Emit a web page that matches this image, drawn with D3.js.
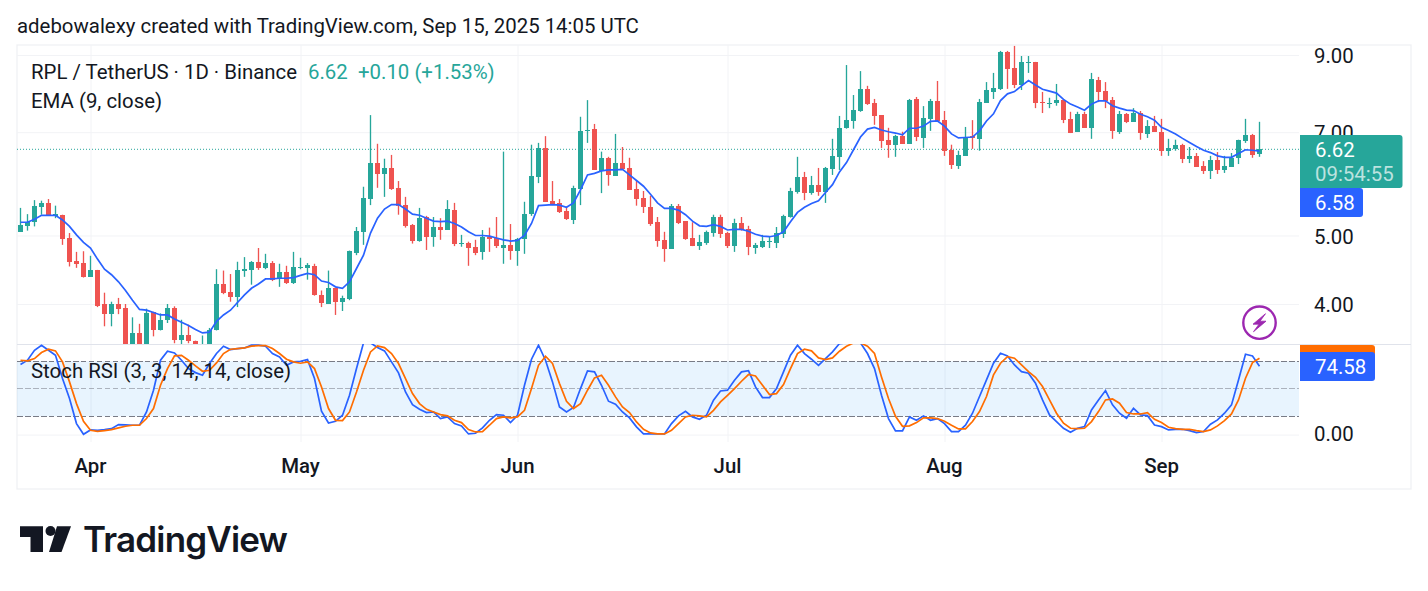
<!DOCTYPE html>
<html>
<head>
<meta charset="utf-8">
<script src="https://cdn.jsdelivr.net/npm/d3@7"></script>
<style>
  body { margin: 0; background: #fff; }
  svg { display: block; font-family: Roboto, sans-serif; }
  .axis path { display: none; }
  .axis text { fill: #131722; font-size: 20.4px; font-family: Roboto, sans-serif; }
  .grid path { display: none; }
  .grid line { stroke: #f2f3f6; stroke-width: 1; }
</style>
</head>
<body>
<div id="chart"></div>
<script>
// daily candles, Mar 22 to Sep 15 2025
const open = [5.06,5.15,5.22,5.49,5.55,5.33,5.35,4.96,4.60,4.57,4.37,4.47,4.00,3.87,4.00,3.95,3.40,3.64,3.45,3.90,3.68,3.80,3.95,3.56,3.62,3.55,3.44,3.49,3.67,4.27,4.16,4.09,4.46,4.47,4.59,4.50,4.57,4.35,4.44,4.28,4.50,4.50,4.53,4.12,4.00,4.21,4.03,4.07,
  4.72,5.06,5.63,6.33,6.11,6.23,5.84,5.52,5.18,4.91,5.31,4.98,5.14,5.09,5.43,4.87,4.88,4.82,4.74,4.98,4.96,4.80,4.85,4.76,4.95,5.36,6.05,6.65,5.60,5.56,5.42,5.26,5.82,7.03,7.08,6.17,6.44,6.07,6.33,6.23,5.82,5.65,5.49,5.23,4.93,4.79,5.51,
  5.24,4.96,4.83,4.88,5.04,5.31,5.04,4.83,5.21,5.11,4.80,4.82,4.90,4.88,5.03,5.31,5.76,6.05,5.74,5.90,5.76,6.21,6.46,7.10,7.26,7.50,8.06,7.70,7.40,6.83,6.72,6.92,6.74,7.80,6.87,7.31,7.75,7.28,6.61,6.27,6.48,6.92,6.85,
  7.70,7.98,8.06,9.09,8.63,8.16,8.77,8.80,7.72,7.67,7.70,7.77,7.31,7.01,7.43,7.10,8.30,8.01,7.77,7.01,7.43,7.24,7.45,6.96,7.14,7.01,6.59,6.63,6.72,6.42,6.48,6.27,6.17,6.40,6.19,6.25,6.44,6.80,6.94,6.52]
const high = [5.47,5.36,5.61,5.60,5.63,5.51,5.35,5.04,4.74,4.75,4.68,4.47,4.15,4.03,4.08,4.00,3.83,3.75,3.94,3.90,3.88,4.00,3.97,3.80,3.74,3.55,3.61,3.70,4.48,4.46,4.41,4.59,4.66,4.60,4.80,4.71,4.60,4.56,4.53,4.74,4.65,4.57,4.56,4.18,4.46,4.22,4.11,4.76,
  5.14,5.86,7.40,6.74,6.42,6.50,5.97,5.67,5.19,5.47,5.33,5.31,5.29,5.61,5.56,5.01,4.90,4.93,5.09,5.13,5.31,6.57,5.19,4.96,5.58,6.72,6.76,6.91,5.97,5.63,5.49,5.88,7.36,7.77,7.19,6.57,6.46,6.96,6.67,6.44,5.97,5.78,5.69,5.31,5.06,5.54,5.54,
  5.24,5.22,5.01,5.08,5.35,5.35,5.06,5.28,5.31,5.16,4.88,5.01,4.98,5.14,5.35,5.84,6.46,6.15,6.07,6.23,6.25,6.85,7.38,8.71,7.90,8.54,8.14,7.80,7.40,7.10,6.94,7.01,7.80,7.85,7.62,7.80,8.27,7.50,6.72,6.59,7.12,7.28,7.80,
  8.24,8.49,9.12,9.12,9.27,8.97,8.97,8.80,7.98,7.83,8.19,7.80,7.48,7.48,7.48,8.49,8.38,8.24,7.85,7.50,7.45,7.57,7.50,7.28,7.38,7.31,6.85,6.83,6.74,6.67,6.54,6.37,6.48,6.56,6.48,6.54,6.83,7.31,6.96,7.24]
const low = [5.06,5.08,5.15,5.35,5.33,5.29,4.85,4.52,4.50,4.36,4.37,3.96,3.72,3.72,3.87,3.35,3.35,3.40,3.42,3.60,3.67,3.76,3.52,3.51,3.52,3.47,3.42,3.46,3.67,4.13,4.03,3.96,4.37,4.26,4.47,4.48,4.31,4.23,4.27,4.27,4.48,4.33,4.11,3.96,4.00,3.86,3.91,4.05,
  4.69,4.85,5.52,5.84,5.67,5.80,5.35,5.13,4.87,4.90,4.77,4.82,4.93,5.09,4.83,4.82,4.53,4.69,4.62,4.74,4.80,4.56,4.62,4.53,4.71,5.33,5.93,5.58,5.52,5.38,5.26,5.19,5.52,6.76,6.19,5.74,5.88,6.07,6.19,5.80,5.51,5.38,5.16,4.82,4.59,4.79,5.19,
  4.93,4.83,4.77,4.85,4.98,4.96,4.80,4.74,5.08,4.69,4.71,4.80,4.80,4.80,4.96,5.30,5.73,5.61,5.71,5.69,5.56,6.09,6.19,7.08,7.08,7.48,7.65,7.17,6.65,6.44,6.46,6.74,6.74,6.80,6.65,7.03,7.24,6.48,6.21,6.21,6.48,6.63,6.59,
  7.70,7.80,8.03,8.06,8.08,8.03,8.49,7.57,7.45,7.57,7.63,7.21,6.98,7.01,7.10,6.85,7.72,7.57,6.85,6.96,7.21,7.24,6.83,6.87,7.01,6.48,6.48,6.59,6.33,6.33,6.25,6.11,6.01,6.11,6.13,6.25,6.31,6.76,6.44,6.46]
const close = [5.18,5.23,5.51,5.55,5.33,5.36,4.94,4.59,4.56,4.37,4.47,3.98,3.87,4.00,3.94,3.40,3.64,3.45,3.89,3.68,3.80,3.95,3.56,3.61,3.55,3.51,3.49,3.68,4.27,4.15,4.09,4.47,4.48,4.59,4.50,4.57,4.33,4.44,4.28,4.51,4.51,4.54,4.12,4.01,4.22,4.03,4.08,4.76,
  5.08,5.65,6.33,6.11,6.23,5.82,5.51,5.16,4.91,5.29,4.98,5.14,5.09,5.45,4.87,4.88,4.80,4.72,4.98,4.95,4.83,4.85,4.76,4.95,5.36,6.07,6.65,5.58,5.54,5.40,5.28,5.84,7.03,7.05,6.19,6.44,6.09,6.33,6.21,5.80,5.63,5.49,5.19,4.91,4.79,5.51,5.21,
  4.94,4.83,4.90,5.06,5.31,5.03,4.83,5.21,5.09,4.82,4.85,4.91,4.91,5.04,5.33,5.78,6.05,5.74,5.90,5.76,6.23,6.48,7.10,7.28,7.53,8.06,7.67,7.38,6.80,6.72,6.92,6.74,7.77,6.89,7.33,7.75,7.26,6.59,6.29,6.50,6.89,6.87,7.73,
  8.03,8.08,9.09,8.60,8.16,8.80,8.80,7.70,7.70,7.70,7.77,7.28,6.98,7.43,7.10,8.33,7.98,7.75,7.03,7.43,7.24,7.45,6.98,7.14,7.01,6.59,6.65,6.72,6.42,6.48,6.25,6.17,6.40,6.19,6.27,6.44,6.83,6.94,6.50,6.62]

// EMA (9, close)
const ema = [5.22,5.22,5.27,5.34,5.34,5.34,5.26,5.15,5.01,4.89,4.80,4.63,4.48,4.40,4.30,4.18,4.05,3.93,3.92,3.89,3.86,3.86,3.81,3.77,3.73,3.68,3.64,3.65,3.78,3.86,3.92,4.02,4.12,4.21,4.27,4.34,4.34,4.35,4.35,4.36,4.39,4.42,4.40,4.31,4.29,4.23,4.21,4.30,
  4.49,4.69,5.04,5.29,5.45,5.53,5.53,5.45,5.36,5.34,5.29,5.24,5.23,5.24,5.20,5.14,5.06,5.00,5.00,4.99,4.96,4.93,4.91,4.92,5.00,5.20,5.51,5.52,5.53,5.52,5.48,5.56,5.80,6.09,6.12,6.17,6.19,6.19,6.20,6.09,5.98,5.87,5.72,5.56,5.46,5.46,5.43,
  5.35,5.24,5.16,5.15,5.18,5.15,5.09,5.10,5.10,5.07,5.02,4.99,4.98,5.00,5.06,5.23,5.39,5.48,5.55,5.60,5.75,5.90,6.15,6.34,6.61,6.89,7.07,7.11,7.05,7.01,6.98,6.94,7.09,7.09,7.14,7.25,7.26,7.14,6.96,6.87,6.88,6.89,7.03,
  7.26,7.43,7.76,7.93,7.99,8.14,8.28,8.16,8.05,8.00,7.95,7.79,7.67,7.60,7.52,7.67,7.75,7.75,7.63,7.57,7.52,7.51,7.42,7.36,7.28,7.11,7.04,6.96,6.86,6.77,6.68,6.60,6.55,6.48,6.45,6.45,6.53,6.61,6.60,6.58]

// Stoch RSI (3, 3, 14, 14, close)
const stochK = [76.4,81.1,92,97.5,92,86.5,61.1,39.3,12,0.4,5.1,4.7,5.5,6.5,10.9,10.5,10.2,10.2,24.7,48.4,81.1,90.9,89.1,81.1,72,67.6,64.7,77.5,88.4,96.4,92.7,93.8,94.5,97.5,97.5,96.4,88.4,84.7,75.6,79.3,80,81.8,61.1,25.5,12.7,14.5,
  21.1,42.9,72,100,100,94.9,91.3,79.3,67.3,46.5,32.7,27.6,24,24.7,17.5,19.3,12,9.5,0.7,1.5,7.3,15.6,21.8,21.1,13.1,21.1,53.8,82.2,97.5,81.1,57.5,30.2,24.7,29.5,50.2,69.5,68.4,53.8,36.4,33.1,24.7,18.2,8.4,0.7,0.7,0.7,
  0.7,12,20.4,25.5,19.3,16.7,21.1,37.5,47.6,48.4,59.3,68.4,69.8,52,40.4,40.4,50.2,68.4,86.5,97.5,88.4,82.2,75.6,82.9,90.2,99.3,100,100,100,88.4,72,42.9,17.5,4,4,19.3,15.6,20.4,15.6,17.5,12,3.3,3.3,10.2,
  23.3,41.5,59.6,77.8,88.7,85.8,76,68.7,66.9,56,37.8,21.5,14.2,6.9,2.5,6.9,8.7,26.9,37.8,48,32.4,23.3,17.8,28.7,21.5,20.7,10.5,8.7,5.1,5.8,5.8,4.4,2.2,3.3,11.3,16,23.3,32.4,59.6,87.6,85.8,74.58]
const stochD = [81.1,80.4,82.9,89.5,93.1,91.3,79.3,57.5,33.8,14.5,4.7,3.6,4.4,5.5,7.3,9.1,10.2,10.2,17.5,28.4,53.8,72,85.8,86.5,81.1,74.9,69.1,70.2,78.2,88.4,93.1,93.8,94.5,96.4,97.1,97.1,93.8,88.4,82.2,79.3,77.8,79.3,72,52,28.4,15.6,
  15.3,24.7,46.5,70.2,90.2,96.7,94.9,88.4,77.5,61.1,44.7,33.8,27.6,24.7,21.8,20.4,15.6,13.1,5.5,2.9,3.3,10.2,17.5,19.3,18.2,19.3,26.5,50.2,75.6,85.5,77.5,55.6,36.4,28.4,33.8,48.4,61.8,64.7,53.8,41.1,30.2,24,13.8,5.8,1.8,0.7,0.7,
  4.7,12,19.3,21.1,20.4,19.3,26.5,35.6,42.9,50.2,58.2,65.5,64,53.8,43.6,44.7,54.5,72,88.4,93.1,91.3,83.6,81.8,83.6,90.9,96.4,100,100,96.4,88.4,62.9,39.3,20,9.1,9.5,13.1,18.2,18.2,17.5,14.5,10.2,6.2,6.2,
  14.2,25.1,41.5,65.1,77.8,85.1,83.3,76,68.7,62.5,52.4,37.8,23.3,12.4,6.9,6.5,6.9,14.2,25.1,37.8,38.9,34.2,24,22.5,22.5,24,16.7,13.1,8,6.5,5.8,5.8,4.4,3.3,5.1,9.5,15.3,22.5,37.8,61.5,78.5,83.3]

const priceTicks = [4, 5, 7, 9]
const stochTicks = [0]
const stochLevels = [20, 50, 80]
const monthStarts = [["2025-04-01", "Apr"], ["2025-05-01", "May"], ["2025-06-01", "Jun"], ["2025-07-01", "Jul"], ["2025-08-01", "Aug"], ["2025-09-01", "Sep"]]

const GREEN = "#26a69a", RED = "#ef5350", BLUE = "#2962ff", ORANGE = "#ff6d00", TEXT = "#131722"
const dates = d3.utcDay.range(new Date(Date.UTC(2025, 2, 22)), new Date(Date.UTC(2025, 8, 16)))
const candles = dates.map((d, i) => ({ date: d, o: open[i], h: high[i], l: low[i], c: close[i] }))
const lastDate = dates[dates.length - 1]

const svg = d3.select("#chart").append("svg").attr("width", 1428).attr("height", 591)
svg.append("rect").attr("width", 1428).attr("height", 591).attr("fill", "#fff")

// pane geometry
const paneLeft = 17, paneRight = 1299, outerRight = 1411, paneTop = 45, split = 344, stochBottom = 442, outerBottom = 489

const x = d3.scaleUtc().domain([dates[0], lastDate]).range([20.5, 1259.5])
const y = d3.scaleLog().domain([4, 9]).range([304, 55])
const ys = d3.scaleLinear().domain([0, 100]).range([434.6, 342.9])

const defs = svg.append("defs")
defs.append("clipPath").attr("id", "mainClip").append("rect")
  .attr("x", paneLeft).attr("y", paneTop).attr("width", paneRight - paneLeft).attr("height", split - paneTop)
defs.append("clipPath").attr("id", "stochClip").append("rect")
  .attr("x", paneLeft).attr("y", split).attr("width", paneRight - paneLeft).attr("height", stochBottom - split)

// outer frame
svg.append("rect").attr("x", paneLeft).attr("y", paneTop).attr("width", outerRight - paneLeft).attr("height", outerBottom - paneTop)
  .attr("fill", "none").attr("stroke", "#f0f1f4").attr("stroke-width", 1.3)

// grid lines
const monthDates = monthStarts.map(m => new Date(m[0] + "T00:00:00Z"))
svg.append("g").attr("class", "grid").attr("transform", `translate(0,${stochBottom})`)
  .call(d3.axisBottom(x).tickValues(monthDates).tickSize(-(stochBottom - paneTop)).tickFormat(""))
svg.append("g").attr("class", "grid").attr("transform", `translate(${paneLeft},0)`)
  .call(d3.axisRight(y).tickValues(priceTicks).tickSize(paneRight - paneLeft).tickFormat(""))
svg.append("g").attr("class", "grid").attr("transform", `translate(${paneLeft},0)`)
  .call(d3.axisRight(ys).tickValues(stochTicks).tickSize(paneRight - paneLeft).tickFormat(""))

// stoch band and levels
svg.append("rect").attr("x", paneLeft).attr("width", paneRight - paneLeft)
  .attr("y", ys(80)).attr("height", ys(20) - ys(80)).attr("fill", "rgba(33,150,243,0.1)")
svg.append("g").selectAll("line").data(stochLevels).join("line")
  .attr("x1", paneLeft).attr("x2", paneRight)
  .attr("y1", d => ys(d)).attr("y2", d => ys(d))
  .attr("stroke", "#787b86").attr("stroke-opacity", d => d == 50 ? 0.55 : 1)
  .attr("stroke-dasharray", "5.5,2.5").attr("stroke-width", 1).attr("shape-rendering", "crispEdges")

// pane divider
svg.append("line").attr("x1", paneLeft).attr("x2", outerRight).attr("y1", split + 0.5).attr("y2", split + 0.5)
  .attr("stroke", "#e0e3eb").attr("stroke-width", 1)

// last price line
svg.append("line").attr("x1", paneLeft).attr("x2", paneRight).attr("y1", y(close[close.length - 1])).attr("y2", y(close[close.length - 1]))
  .attr("stroke", GREEN).attr("stroke-width", 1).attr("stroke-dasharray", "1,2")

// candles
const main = svg.append("g").attr("clip-path", "url(#mainClip)")
const color = d => d.c >= d.o ? GREEN : RED
main.append("g").selectAll("rect").data(candles).join("rect")
  .attr("x", d => x(d.date) - 0.67).attr("width", 1.33)
  .attr("y", d => y(d.h)).attr("height", d => y(d.l) - y(d.h))
  .attr("fill", color)
main.append("g").selectAll("rect").data(candles).join("rect")
  .attr("x", d => x(d.date) - 2.5).attr("width", 5)
  .attr("y", d => y(Math.max(d.o, d.c))).attr("height", d => Math.max(1, Math.abs(y(d.o) - y(d.c))))
  .attr("fill", color).attr("shape-rendering", "crispEdges")

// EMA
main.append("path").datum(ema)
  .attr("fill", "none").attr("stroke", BLUE).attr("stroke-width", 1.7)
  .attr("d", d3.line().x((d, i) => x(dates[i])).y(d => y(d)))

// stoch lines
const stochLine = d3.line().x((d, i) => x(dates[i])).y(d => ys(d))
const stoch = svg.append("g").attr("clip-path", "url(#stochClip)")
stoch.append("path").datum(stochK).attr("fill", "none").attr("stroke", BLUE).attr("stroke-width", 1.7).attr("d", stochLine)
stoch.append("path").datum(stochD).attr("fill", "none").attr("stroke", ORANGE).attr("stroke-width", 1.7).attr("d", stochLine)

// axes
svg.append("g").attr("class", "axis").attr("transform", `translate(${paneRight},1)`)
  .call(d3.axisRight(y).tickValues(priceTicks).tickSize(0).tickPadding(15).tickFormat(d3.format(".2f")))
svg.append("g").attr("class", "axis").attr("transform", `translate(${paneRight},-1)`)
  .call(d3.axisRight(ys).tickValues(stochTicks).tickSize(0).tickPadding(15).tickFormat(d3.format(".2f")))
const timeAxis = svg.append("g").attr("class", "axis").attr("transform", "translate(-0.5,452)")
  .call(d3.axisBottom(x).tickValues(monthDates).tickSize(0).tickPadding(7).tickFormat((d, i) => monthStarts[i][1]))
timeAxis.selectAll("text").style("font-weight", 500).style("font-size", "20.4px")

// value tags on the right
function tag(x0, x1, y0, y1, fill) {
  const r = 3
  svg.append("path").attr("fill", fill)
    .attr("d", `M${x0},${y0}H${x1 - r}Q${x1},${y0} ${x1},${y0 + r}V${y1 - r}Q${x1},${y1} ${x1 - r},${y1}H${x0}Z`)
}
function label(tx, ty, str, fill) {
  return svg.append("text").attr("x", tx).attr("y", ty).attr("fill", fill)
    .style("font-size", "20.4px").attr("dominant-baseline", "central").text(str)
}
tag(1300, 1402.5, 135, 188, GREEN)
label(1315, 150, d3.format(".2f")(close[close.length - 1]), "#fff")
label(1315, 174, "09:54:55", "rgba(255,255,255,0.7)")
tag(1300, 1363, 188, 217, BLUE)
label(1315, 203, d3.format(".2f")(ema[ema.length - 1]), "#fff")
tag(1300, 1375, 345, 356, ORANGE)
tag(1300, 1375, 352, 381, BLUE)
label(1315, 367, d3.format(".2f")(stochK[stochK.length - 1]), "#fff")

// lightning marker above the last candle
const mark = svg.append("g").attr("transform", `translate(${x(lastDate)},322.7)`)
mark.append("circle").attr("r", 16.2).attr("fill", "#fff").attr("stroke", "#9c27b0").attr("stroke-width", 2.4)
mark.append("path").attr("fill", "#9c27b0").attr("stroke", "#9c27b0").attr("stroke-width", 0.8).attr("stroke-linejoin", "round")
  .attr("d", "M6,-9 L-6.5,1.5 H-0.5 L-6,9 L6.5,-1.5 H0.5 Z")

// header and legends
label(17, 26, "adebowalexy created with TradingView.com, Sep 15, 2025 14:05 UTC", TEXT)
label(31, 72, "RPL / TetherUS · 1D · Binance", TEXT)
label(308, 72, "6.62", GREEN)
label(358, 72, "+0.10 (+1.53%)", GREEN)
label(31, 101, "EMA (9, close)", TEXT)
label(31, 371, "Stoch RSI (3, 3, 14, 14, close)", TEXT)

// TradingView logo
svg.append("path").attr("fill", "#131722").attr("d", "M20,526.3H43V552H30.5V537H20Z")
svg.append("circle").attr("cx", 50.5).attr("cy", 531).attr("r", 5).attr("fill", "#131722")
svg.append("path").attr("fill", "#131722").attr("d", "M57,526.3H71L61.5,552H49Z")
svg.append("text").attr("x", 83).attr("y", 552).attr("fill", "#131722")
  .style("font-family", "Inter, sans-serif").style("font-weight", 600).style("font-size", "35px")
  .attr("textLength", 205).attr("lengthAdjust", "spacing").text("TradingView")
</script>
</body>
</html>
